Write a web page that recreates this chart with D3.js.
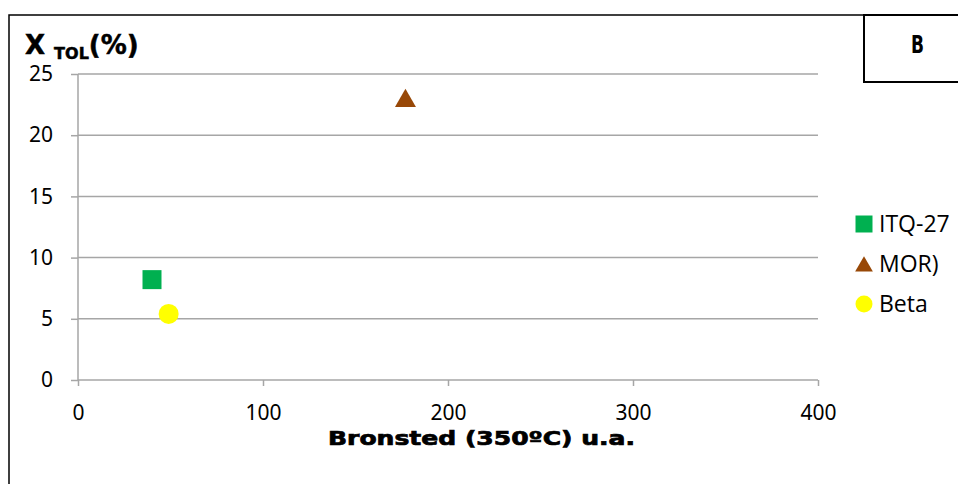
<!DOCTYPE html>
<html><head><meta charset="utf-8">
<script src="https://cdn.jsdelivr.net/npm/d3@7"></script>
<style>body{margin:0;background:#fff}svg{display:block}</style>
</head><body><svg id="c" width="958" height="484"></svg>
<script>
const series = ["ITQ-27", "MOR)", "Beta"];
const xValues = [40, 177, 49];
const yValues = [8.2, 22.8, 5.4];
const colors = ["#00B050", "#984807", "#FFFF00"];
const xTicks = [0, 100, 200, 300, 400];
const yTicks = [0, 5, 10, 15, 20, 25];

const svg = d3.select("#c");
const font = "'Noto Sans','Open Sans',sans-serif";

// outer frame
svg.append("rect").attr("x", 9).attr("y", 15).attr("width", 1000).attr("height", 600)
  .attr("fill", "none").attr("stroke", "#000").attr("stroke-width", 1.5);
// B box
svg.append("rect").attr("x", 864).attr("y", 15).attr("width", 200).attr("height", 67)
  .attr("fill", "#fff").attr("stroke", "#000").attr("stroke-width", 2);
svg.append("text").attr("x", 911).attr("y", 53)
  .attr("font-family", "'DejaVu Sans',sans-serif").attr("font-weight", "bold").attr("font-size", 24)
  .attr("textLength", 13).attr("lengthAdjust", "spacingAndGlyphs").text("B");

const x = d3.scaleLinear().domain([0, 400]).range([78, 818]);
const y = d3.scaleLinear().domain([0, 25]).range([380, 74]);

// grid
svg.append("g").selectAll("line").data(yTicks.filter(d => d > 0)).join("line")
  .attr("x1", x(0)).attr("x2", x(400)).attr("y1", d => y(d)).attr("y2", d => y(d))
  .attr("stroke", "#A6A6A6").attr("stroke-width", 1.5);

const gx = svg.append("g").attr("transform", `translate(0,${y(0)})`)
  .call(d3.axisBottom(x).tickValues(xTicks).tickSize(6).tickPadding(19).tickFormat(d3.format("d")));
const gy = svg.append("g").attr("transform", `translate(${x(0)},0)`)
  .call(d3.axisLeft(y).tickValues(yTicks).tickSize(7).tickPadding(18).tickFormat(d3.format("d")));
[gx, gy].forEach(g => {
  g.select(".domain").attr("stroke", "#A6A6A6").attr("stroke-width", 1.5);
  g.selectAll(".tick line").attr("stroke", "#A6A6A6").attr("stroke-width", 1.5);
  g.selectAll("text").attr("font-family", font).attr("font-size", 21).attr("fill", "#000");
});
gx.selectAll(".domain").attr("d", `M${x(0)},0H${x(400)}`);
gy.selectAll(".domain").attr("d", `M0,${y(0)}V${y(25)}`);

// marks
const sym = [d3.symbolSquare, d3.symbolTriangle, d3.symbolCircle];
const sizes = [361, 190, 314];
const lsizes = [289, 136, 227];
const data = series.map((s, i) => ({s, x: xValues[i], y: yValues[i], c: colors[i], sym: sym[i], size: sizes[i], ls: lsizes[i]}));
svg.append("g").selectAll("path").data(data).join("path")
  .attr("transform", d => `translate(${x(d.x)},${y(d.y)})`)
  .attr("d", d => d3.symbol().type(d.sym).size(d.size)())
  .attr("fill", d => d.c);

// legend
const lg = svg.append("g").selectAll("g").data(data).join("g")
  .attr("transform", (d, i) => `translate(864,${224 + i * 40})`);
lg.append("path").attr("d", d => d3.symbol().type(d.sym).size(d.ls)())
  .attr("transform", d => d.sym === d3.symbolTriangle ? "translate(0,2.5)" : null)
  .attr("fill", d => d.c);
lg.append("text").attr("x", 15).attr("y", 8).attr("font-family", "'Open Sans','Noto Sans',sans-serif")
  .attr("font-size", 23).text(d => d.s);

// titles
const t = svg.append("text").attr("x", 25).attr("y", 54).attr("font-family", "'DejaVu Sans',sans-serif")
  .attr("font-weight", "bold").attr("font-size", 26).attr("stroke", "#000").attr("stroke-width", 0.5);
t.append("tspan").text("X ");
t.append("tspan").attr("font-size", 16).attr("dy", 5).text("TOL");
t.append("tspan").attr("dy", -5).text("(%)");

svg.append("text").attr("x", 328).attr("y", 445)
  .attr("font-family", "'DejaVu Sans',sans-serif").attr("font-weight", "bold").attr("font-size", 19)
  .attr("stroke", "#000").attr("stroke-width", 0.7)
  .attr("textLength", 307).attr("lengthAdjust", "spacingAndGlyphs")
  .text("Bronsted (350ºC) u.a.");
</script></body></html>
